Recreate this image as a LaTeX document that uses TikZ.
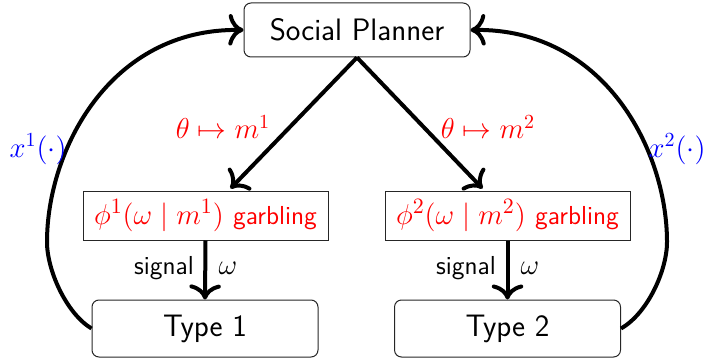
\documentclass[tikz,border=0pt]{standalone}
\usetikzlibrary{calc,arrows.meta}
\tikzset{
  roundbox/.style={draw=black!85, rounded corners=3.5pt, line width=0.5pt, minimum width=113pt, inner sep=0pt, font=\fontsize{15.5}{18}\selectfont\sffamily},
  garbbox/.style={draw=black!85, line width=0.5pt, minimum width=122.5pt, minimum height=24.5pt, inner sep=0pt, text=red},
  flow/.style={-{Computer Modern Rightarrow[scale=1.25]}, line width=2pt},
  smalltxt/.style={font=\fontsize{13}{15}\selectfont\sffamily},
  mathlbl/.style={font=\fontsize{14.8}{18}\selectfont}
}
\begin{document}
\begin{tikzpicture}[x=0.5pt,y=-0.5pt]
\useasboundingbox (0,0) rectangle (704,363);
\node[roundbox, minimum height=27pt] (sp) at (357,30) {Social Planner};
\node[garbbox] (g1) at (205.5,215.5) {\fontsize{15.5}{18}\selectfont$\phi^1(\omega\mid m^1)$ \fontsize{13}{15}\selectfont\sffamily garbling};
\node[garbbox] (g2) at (507.5,215.5) {\fontsize{15.5}{18}\selectfont$\phi^2(\omega\mid m^2)$ \fontsize{13}{15}\selectfont\sffamily garbling};
\node[roundbox, minimum height=28.5pt] (t1) at (205,328.5) {Type 1};
\node[roundbox, minimum height=28.5pt] (t2) at (507.5,328.5) {Type 2};
\coordinate (e1) at ($(g1.north)+(25,-2)$);
\coordinate (e2) at ($(g2.north)+(-25,-2)$);
\draw[flow] (sp.south) -- (e1);
\draw[flow] (sp.south) -- (e2);
\draw[flow] (g1.south) -- (t1.north);
\draw[flow] (g2.south) -- (t2.north);
\coordinate (l1) at (47,242);
\coordinate (r1) at (667,242);
\draw[flow] (t1.west) .. controls (66,313) and (47,270) .. (l1)
  .. controls (47,150) and (110,28) .. (sp.west);
\draw[flow] (t2.east) .. controls (648,313) and (667,270) .. (r1)
  .. controls (667,150) and (604,28) .. (sp.east);
\node[mathlbl, text=red] (lab1) at (223,127) {$\theta\mapsto m^1$};
\node[mathlbl, text=red] (lab2) at (488,127) {$\theta\mapsto m^2$};
\node[mathlbl, text=blue] (x1) at (38,149) {$x^1(\cdot)$};
\node[mathlbl, text=blue] (x2) at (677,149) {$x^2(\cdot)$};
\node[smalltxt] (s1) at (164,268) {signal};
\node[mathlbl] (w1) at (228,268) {$\omega$};
\node[smalltxt] (s2) at (466,268) {signal};
\node[mathlbl] (w2) at (530,268) {$\omega$};
\end{tikzpicture}
\end{document}
